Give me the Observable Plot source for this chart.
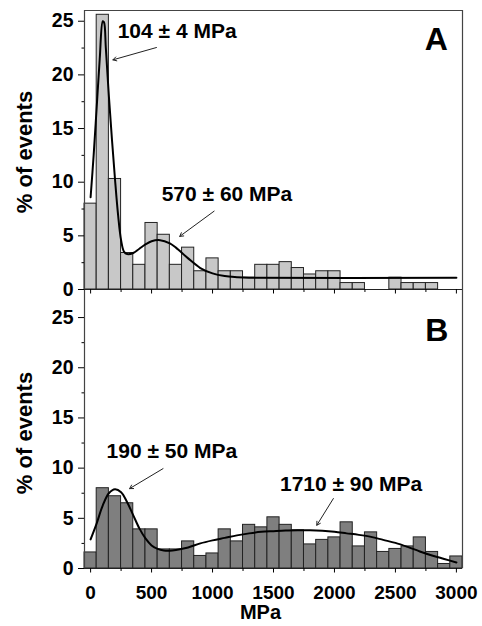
<!DOCTYPE html>
<html><head><meta charset="utf-8">
<script src="https://cdn.jsdelivr.net/npm/d3@7"></script>
<script src="https://cdn.jsdelivr.net/npm/@observablehq/plot@0.6"></script>
<style>
body{margin:0;background:#fff;}
#chart{width:482px;}
#chart svg{display:block;}
</style></head><body><div id="chart"></div>
<script>
// ---- data ----
const binCenters = [0,100,200,300,400,500,600,700,800,900,1000,1100,1200,1300,1400,1500,1600,1700,1800,1900,2000,2100,2200,2300,2400,2500,2600,2700,2800,2900,3000];
const valuesA = [8.0,25.6,10.3,3.4,2.3,6.2,5.1,2.3,3.9,1.7,2.9,1.7,1.7,1.1,2.3,2.3,2.55,2.0,1.4,1.7,1.7,0.6,0.6,0,0,1.1,0.6,0.6,0.6,0,0];
const valuesB = [1.6,8.0,7.2,6.5,3.9,3.9,1.9,1.9,2.7,1.25,1.5,3.9,2.7,4.35,4.1,5.1,4.35,3.8,2.4,2.85,3.1,4.6,2.2,3.6,1.65,1.95,2.2,3.1,1.65,0.45,1.2];
const binWidth = 100;

const fitAx = [0,25,50,75,100,110,125,150,175,200,225,250,275,300,350,400,450,500,570,650,700,800,900,1000,1100,1200,1300,3000];
const fitAy = [8.6,12.5,17,21.5,25.0,24.9,22.5,18,14,10.3,7,4.6,3.5,3.3,3.4,3.8,4.2,4.5,4.6,4.3,3.9,2.9,2.0,1.5,1.25,1.15,1.1,1.1];
const fitBx = [0,50,100,150,200,250,300,350,400,450,500,550,600,650,700,800,900,1000,1100,1200,1300,1400,1500,1600,1700,1800,1900,2000,2100,2200,2300,2400,2500,2600,2700,2800,2900,3000];
const fitBy = [2.9,4.5,6.3,7.5,7.9,7.6,6.6,5.3,4.0,3.0,2.3,1.95,1.8,1.78,1.85,2.1,2.5,2.8,3.05,3.3,3.5,3.65,3.72,3.78,3.8,3.8,3.75,3.65,3.5,3.35,3.15,2.85,2.55,2.15,1.7,1.3,0.95,0.6];

const annTextA = [{x:222, y:24.1, label:"104 ± 4 MPa"}, {x:583, y:8.9, label:"570 ± 60 MPa"}];
const annArrowA = [{x1:540, y1:22.55, x2:183, y2:21.4}, {x1:1013, y1:7.3, x2:731, y2:4.95}];
const annTextB = [{x:131, y:11.7, label:"190 ± 50 MPa"}, {x:1553, y:8.4, label:"1710 ± 90 MPa"}];
const annArrowB = [{x1:594, y1:9.95, x2:320, y2:7.96}, {x1:1991, y1:6.97, x2:1855, y2:4.31}];
const panelLabels = [{panel:"A", x:2930, y:23.3}, {panel:"B", x:2935, y:23.7}];

const yMajor = [0,5,10,15,20,25];
const yMinor = [2.5,7.5,12.5,17.5,22.5];
const xMajor = [0,500,1000,1500,2000,2500,3000];
const xMinor = [250,750,1250,1750,2250,2750];
const xLabel = "MPa";
const yLabel = "% of events";

// ---- build ----
const xDomain = [-50, 3050];
const rowsA = binCenters.map((c,i)=>({x1:c-binWidth/2, x2:c+binWidth/2, y:valuesA[i]}));
const rowsB = binCenters.map((c,i)=>({x1:c-binWidth/2, x2:c+binWidth/2, y:valuesB[i]}));
const fitA = fitAx.map((x,i)=>({x, y:fitAy[i]}));
const fitB = fitBx.map((x,i)=>({x, y:fitBy[i]}));

const font = "'Liberation Sans', Arial, Helvetica, sans-serif";
const frameColor = "#444";
const style = {fontFamily:font, fontWeight:"bold", fontSize:"19px", color:"#000", background:"#fff", overflow:"visible"};

function panel({rows, fit, fill, texts, arrows, label, yTop, height, marginTop, marginBottom, bottom}) {
  const marks = [
    Plot.rectY(rows, {x1:"x1", x2:"x2", y:"y", fill, stroke:"#222", strokeWidth:1, inset:0}),
    Plot.line(fit, {x:"x", y:"y", curve:"catmull-rom", stroke:"#000", strokeWidth:2}),
    Plot.ruleX(xDomain, {y1: bottom ? 0 : -0.75, y2: yTop, stroke:frameColor, strokeWidth:1.2}),
    Plot.ruleY([0], {stroke:"#222", strokeWidth:1.2}),
    Plot.axisY(yMajor, {anchor:"left", tickSize:6, tickPadding:5, label:null, fontSize:19.5}),
    Plot.axisY(yMinor, {anchor:"left", tickSize:2.5, tickFormat:()=>"", label:null}),
    Plot.axisX(xMinor, {anchor:"bottom", tickSize:3, tickFormat:()=>"", label:null}),
    bottom
      ? Plot.axisX(xMajor, {anchor:"bottom", tickSize:4.5, tickPadding:12, label:null, fontSize:19, tickFormat:d=>String(d)})
      : Plot.axisX(xMajor, {anchor:"bottom", tickSize:4.5, tickFormat:()=>"", label:null}),
    Plot.text([yLabel], {frameAnchor:"left", lineAnchor:"middle", textAnchor:"middle", rotate:-90, dx:-60, dy: bottom ? 0 : 2, fontSize:22}),
    Plot.text(texts, {x:"x", y:"y", text:"label", textAnchor:"start", fontSize:21}),
    Plot.arrow(arrows, {x1:"x1", y1:"y1", x2:"x2", y2:"y2", stroke:"#222", strokeWidth:1, headLength:6}),
    Plot.text([label], {x:"x", y:"y", text:"panel", textAnchor:"end", fontSize:32})
  ];
  if (bottom) marks.push(Plot.text([xLabel], {frameAnchor:"bottom", lineAnchor:"middle", dy:44, dx:-13, fontSize:20}));
  if (!bottom) marks.push(Plot.ruleY([yTop], {stroke:frameColor, strokeWidth:1.2}));
  return Plot.plot({
    width:482, height, marginLeft:84, marginRight:20, marginTop, marginBottom,
    x:{domain:xDomain, axis:null},
    y:{domain:[0,yTop], axis:null},
    style,
    marks
  });
}

const chart = document.getElementById("chart");
chart.append(panel({rows:rowsA, fit:fitA, fill:"#c8c8c8", texts:annTextA, arrows:annArrowA, label:panelLabels[0], yTop:26, height:296, marginTop:10, marginBottom:7, bottom:false}));
chart.append(panel({rows:rowsB, fit:fitB, fill:"#7f7f7f", texts:annTextB, arrows:annArrowB, label:panelLabels[1], yTop:27, height:330, marginTop:1, marginBottom:58, bottom:true}));
</script>
</body></html>
